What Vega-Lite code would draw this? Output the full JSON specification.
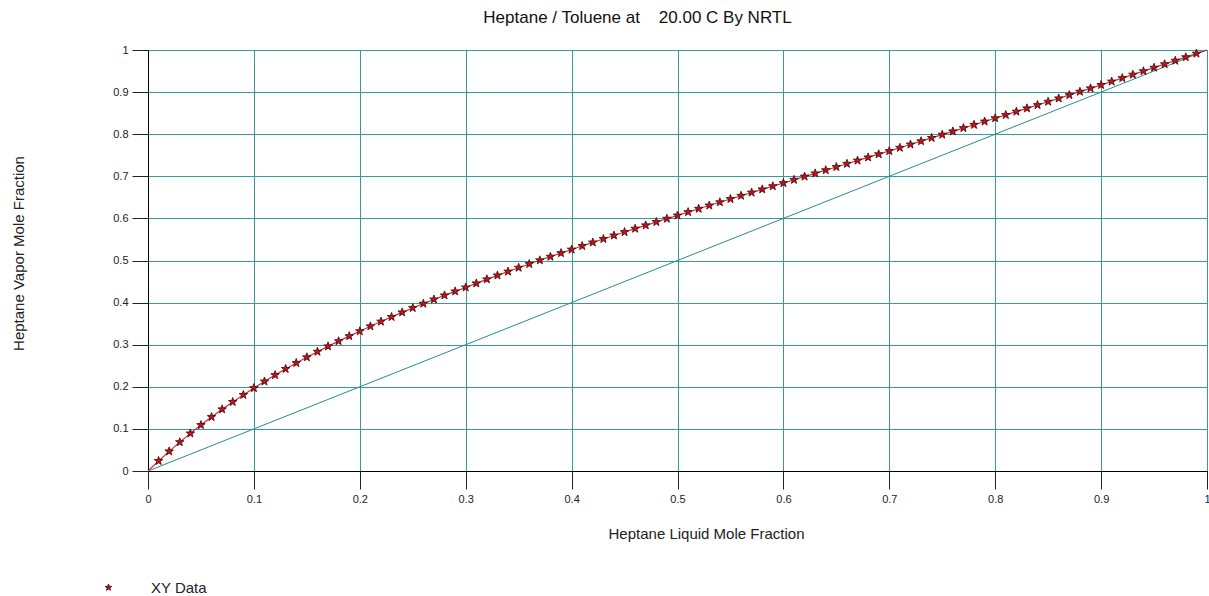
{
  "$schema": "https://vega.github.io/schema/vega-lite/v6.json",
  "width": 1059,
  "height": 421,
  "autosize": "none",
  "padding": {"left": 148, "top": 50, "right": 2, "bottom": 125},
  "background": "white",
  "config": {
    "view": {"stroke": "#222", "strokeWidth": 1},
    "font": "Liberation Sans",
    "axis": {
      "domainColor": "#000",
      "tickColor": "#222",
      "gridColor": "#3a9a9a",
      "gridOpacity": 1,
      "labelFontSize": 11,
      "labelColor": "#222",
      "titleFontSize": 15,
      "titleFontWeight": "normal",
      "titleColor": "#222"
    }
  },
  "title": {
    "text": "Heptane / Toluene at \u00a0\u00a0\u00a020.00 C By NRTL",
    "fontSize": 17,
    "fontWeight": "normal",
    "color": "#111",
    "anchor": "middle",
    "dx": -40,
    "offset": 17
  },
  "datasets": {
    "diag": [{"x": 0, "y": 0}, {"x": 1, "y": 1}],
    "curve": [
      {"x": 0, "y": 0},
      {"x": 0.01, "y": 0.0239},
      {"x": 0.02, "y": 0.0467},
      {"x": 0.03, "y": 0.0685},
      {"x": 0.04, "y": 0.0893},
      {"x": 0.05, "y": 0.1092},
      {"x": 0.06, "y": 0.1283},
      {"x": 0.07, "y": 0.1465},
      {"x": 0.08, "y": 0.164},
      {"x": 0.09, "y": 0.1808},
      {"x": 0.1, "y": 0.197},
      {"x": 0.11, "y": 0.2127},
      {"x": 0.12, "y": 0.2279},
      {"x": 0.13, "y": 0.2425},
      {"x": 0.14, "y": 0.2566},
      {"x": 0.15, "y": 0.2702},
      {"x": 0.16, "y": 0.2834},
      {"x": 0.17, "y": 0.2961},
      {"x": 0.18, "y": 0.3085},
      {"x": 0.19, "y": 0.3204},
      {"x": 0.2, "y": 0.332},
      {"x": 0.21, "y": 0.3437},
      {"x": 0.22, "y": 0.355},
      {"x": 0.23, "y": 0.366},
      {"x": 0.24, "y": 0.3768},
      {"x": 0.25, "y": 0.3873},
      {"x": 0.26, "y": 0.3975},
      {"x": 0.27, "y": 0.4075},
      {"x": 0.28, "y": 0.4172},
      {"x": 0.29, "y": 0.4267},
      {"x": 0.3, "y": 0.436},
      {"x": 0.31, "y": 0.4457},
      {"x": 0.32, "y": 0.4553},
      {"x": 0.33, "y": 0.4646},
      {"x": 0.34, "y": 0.4738},
      {"x": 0.35, "y": 0.4829},
      {"x": 0.36, "y": 0.4917},
      {"x": 0.37, "y": 0.5005},
      {"x": 0.38, "y": 0.5091},
      {"x": 0.39, "y": 0.5176},
      {"x": 0.4, "y": 0.526},
      {"x": 0.41, "y": 0.5345},
      {"x": 0.42, "y": 0.5429},
      {"x": 0.43, "y": 0.5512},
      {"x": 0.44, "y": 0.5595},
      {"x": 0.45, "y": 0.5676},
      {"x": 0.46, "y": 0.5757},
      {"x": 0.47, "y": 0.5836},
      {"x": 0.48, "y": 0.5915},
      {"x": 0.49, "y": 0.5993},
      {"x": 0.5, "y": 0.607},
      {"x": 0.51, "y": 0.615},
      {"x": 0.52, "y": 0.6229},
      {"x": 0.53, "y": 0.6307},
      {"x": 0.54, "y": 0.6384},
      {"x": 0.55, "y": 0.6461},
      {"x": 0.56, "y": 0.6538},
      {"x": 0.57, "y": 0.6614},
      {"x": 0.58, "y": 0.669},
      {"x": 0.59, "y": 0.6765},
      {"x": 0.6, "y": 0.684},
      {"x": 0.61, "y": 0.6917},
      {"x": 0.62, "y": 0.6994},
      {"x": 0.63, "y": 0.707},
      {"x": 0.64, "y": 0.7146},
      {"x": 0.65, "y": 0.7222},
      {"x": 0.66, "y": 0.7298},
      {"x": 0.67, "y": 0.7374},
      {"x": 0.68, "y": 0.7449},
      {"x": 0.69, "y": 0.7525},
      {"x": 0.7, "y": 0.76},
      {"x": 0.71, "y": 0.7678},
      {"x": 0.72, "y": 0.7756},
      {"x": 0.73, "y": 0.7834},
      {"x": 0.74, "y": 0.7912},
      {"x": 0.75, "y": 0.799},
      {"x": 0.76, "y": 0.8068},
      {"x": 0.77, "y": 0.8146},
      {"x": 0.78, "y": 0.8224},
      {"x": 0.79, "y": 0.8302},
      {"x": 0.8, "y": 0.838},
      {"x": 0.81, "y": 0.8458},
      {"x": 0.82, "y": 0.8536},
      {"x": 0.83, "y": 0.8615},
      {"x": 0.84, "y": 0.8693},
      {"x": 0.85, "y": 0.8772},
      {"x": 0.86, "y": 0.8851},
      {"x": 0.87, "y": 0.893},
      {"x": 0.88, "y": 0.901},
      {"x": 0.89, "y": 0.909},
      {"x": 0.9, "y": 0.917},
      {"x": 0.91, "y": 0.9251},
      {"x": 0.92, "y": 0.9333},
      {"x": 0.93, "y": 0.9415},
      {"x": 0.94, "y": 0.9497},
      {"x": 0.95, "y": 0.958},
      {"x": 0.96, "y": 0.9663},
      {"x": 0.97, "y": 0.9746},
      {"x": 0.98, "y": 0.983},
      {"x": 0.99, "y": 0.9915},
      {"x": 1, "y": 1}
    ]
  },
  "encoding": {
    "x": {
      "field": "x",
      "type": "quantitative",
      "scale": {"domain": [0, 1], "nice": false, "zero": false},
      "axis": {
        "title": "Heptane Liquid Mole Fraction",
        "values": [0, 0.1, 0.2, 0.3, 0.4, 0.5, 0.6, 0.7, 0.8, 0.9, 1],
        "format": ".1~f",
        "tickSize": 18,
        "labelPadding": 4,
        "titlePadding": 22,
        "titleX": 558,
        "titleAlign": "center",
        "labelFlush": false
      }
    },
    "y": {
      "field": "y",
      "type": "quantitative",
      "scale": {"domain": [0, 1], "nice": false, "zero": false},
      "axis": {
        "title": "Heptane Vapor Mole Fraction",
        "values": [0, 0.1, 0.2, 0.3, 0.4, 0.5, 0.6, 0.7, 0.8, 0.9, 1],
        "format": ".1~f",
        "tickSize": 16,
        "labelPadding": 4,
        "titlePadding": 86,
        "titleY": 203,
        "titleAlign": "center",
        "labelFlush": false
      }
    }
  },
  "layer": [
    {
      "data": {"name": "diag"},
      "mark": {"type": "line", "color": "#2b8c8c", "strokeWidth": 1}
    },
    {
      "data": {"name": "curve"},
      "mark": {"type": "line", "color": "#d03030", "strokeWidth": 1.2}
    },
    {
      "data": {"name": "curve"},
      "transform": [{"filter": "datum.x > 0.001 && datum.x < 0.999"}],
      "mark": {
        "type": "point",
        "shape": "M0,-1L0.24,-0.33L0.95,-0.31L0.38,0.12L0.59,0.81L0,0.4L-0.59,0.81L-0.38,0.12L-0.95,-0.31L-0.24,-0.33Z",
        "filled": true,
        "size": 80,
        "opacity": 1,
        "stroke": "#3a0808",
        "strokeWidth": 0.8
      },
      "encoding": {
        "color": {
          "datum": "XY Data",
          "type": "nominal",
          "scale": {"range": ["#c8101c"]},
          "legend": {
            "title": null,
            "orient": "none",
            "legendX": -47,
            "legendY": 530,
            "labelFontSize": 15,
            "labelColor": "#222",
            "labelOffset": 35,
            "symbolSize": 50,
            "symbolStrokeColor": "#3a0808",
            "symbolStrokeWidth": 0.8
          }
        }
      }
    }
  ]
}
